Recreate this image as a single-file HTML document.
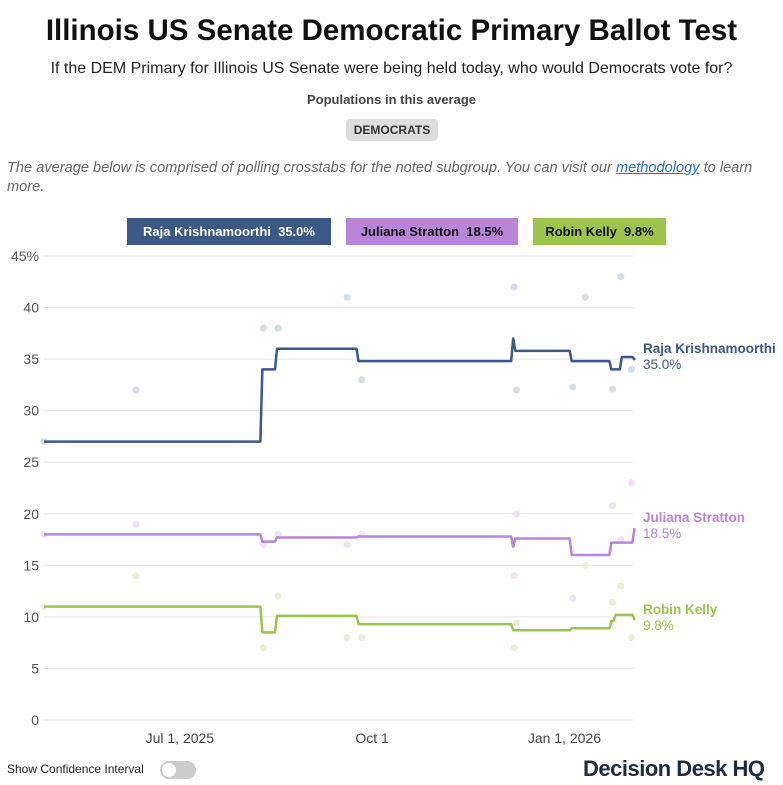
<!DOCTYPE html>
<html><head><meta charset="utf-8"><style>
body{margin:0;width:783px;height:785px;background:#fff;font-family:"Liberation Sans",sans-serif;position:relative;overflow:hidden;color:#222}
.a{position:absolute}
</style></head><body>
<div class="a" style="left:0;width:783px;top:14px;text-align:center;font-size:29.5px;font-weight:bold;color:#111">Illinois US Senate Democratic Primary Ballot Test</div>
<div class="a" style="left:0;width:783px;top:60px;text-align:center;font-size:16px;color:#222">If the DEM Primary for Illinois US Senate were being held today, who would Democrats vote for?</div>
<div class="a" style="left:0;width:783px;top:92px;text-align:center;font-size:13px;font-weight:bold;color:#444">Populations in this average</div>
<div class="a" style="left:346px;top:119px;width:92px;height:22px;line-height:22px;background:#ddd;border-radius:4px;text-align:center;font-size:12px;font-weight:bold;color:#333">DEMOCRATS</div>
<div class="a" style="left:7px;top:159px;width:770px;font-size:14.6px;font-style:italic;color:#666;line-height:19px">The average below is comprised of polling crosstabs for the noted subgroup. You can visit our <span style="color:#2a6fd6;text-decoration:underline">methodology</span> to learn<br>more.</div>
<div class="a" style="left:127px;top:218px;width:204px;height:27px;line-height:27px;background:#3b5887;color:#fff;font-size:13px;font-weight:bold;text-align:center">Raja Krishnamoorthi&nbsp; 35.0%</div>
<div class="a" style="left:346px;top:218px;width:172px;height:27px;line-height:27px;background:#b985d8;color:#111;font-size:13px;font-weight:bold;text-align:center">Juliana Stratton&nbsp; 18.5%</div>
<div class="a" style="left:533px;top:218px;width:133px;height:27px;line-height:27px;background:#9dc44d;color:#111;font-size:13px;font-weight:bold;text-align:center">Robin Kelly&nbsp; 9.8%</div>
<svg class="a" style="left:0;top:0" width="783" height="785" id="chart"></svg>
<div class="a" style="left:7px;top:762px;font-size:12px;color:#222">Show Confidence Interval</div>
<div class="a" style="left:160px;top:761px;width:36px;height:18px;border-radius:9px;background:#ccc"><div style="position:absolute;left:2px;top:2px;width:14px;height:14px;border-radius:7px;background:#fff"></div></div>
<div class="a" style="left:583px;top:756px;font-size:22px;font-weight:bold;color:#1d2a44;letter-spacing:-0.5px">Decision Desk HQ</div>
<script>
const tickValues=[0,5,10,15,20,25,30,35,40,45];
const dateTicks=[65,157,249];
const dateLabels=["Jul 1, 2025","Oct 1","Jan 1, 2026"];
const stepDays=[0,104,111,150,224,225,252,271,273,276,282];
const rajaAvg=[27,34,36,34.8,37,35.8,34.8,34,34,35.2,35.0];
const strattonAvg=[18,17.3,17.7,17.8,16.8,17.6,16.0,17.2,17.2,17.2,18.5];
const kellyAvg=[11,8.5,10.1,9.3,8.7,8.7,8.9,9.6,10.2,10.2,9.8];
const rajaPollDays=[0,44,105,112,145,152,225,226,253,259,272,276,281];
const rajaPolls=[27,32,38,38,41,33,42,32,32.3,41,32.1,43,34];
const strattonPollDays=[0,44,105,112,145,152,226,225,253,272,276,281];
const strattonPolls=[18,19,17,18,17,18,20,14,11.8,20.8,17.5,23];
const kellyPollDays=[0,44,105,112,145,152,225,226,259,272,276,281];
const kellyPolls=[11,14,7,12,8,8,7,9.4,15,11.4,13,8];
const NS="http://www.w3.org/2000/svg";
const svg=document.getElementById('chart');
const X0=44,PXD=2.09,Y0=720,PXV=(720-256)/45;
const xs=d=>X0+d*PXD, ys=v=>Y0-v*PXV;
function mk(t,a){const e=document.createElementNS(NS,t);for(const k in a)e.setAttribute(k,a[k]);svg.appendChild(e);return e;}
tickValues.forEach(v=>{
 const l=mk('line',{x1:44,x2:633,y1:ys(v),y2:ys(v),stroke:'#e3e3e3','stroke-width':1});
 
 
 const t=mk('text',{x:39,y:ys(v)+5,'text-anchor':'end','font-size':14,fill:'#555','font-family':'Liberation Sans'});
 t.textContent=v===45?'45%':v;
 
 
});
dateTicks.forEach((d,i)=>{
 const t=mk('text',{x:xs(d),y:743,'text-anchor':'middle','font-size':14,fill:'#444','font-family':'Liberation Sans'});
 t.textContent=dateLabels[i];
 
 
});
function dots(days,vals,col,name){days.forEach((d,i)=>{
 const c=mk('circle',{cx:xs(d),cy:ys(vals[i]),r:3.5,fill:col});
 
 
});}
dots(rajaPollDays,rajaPolls,'#d5dce8','raja-poll-dot');
dots(strattonPollDays,strattonPolls,'#efe1f6','stratton-poll-dot');
dots(kellyPollDays,kellyPolls,'#e8f0d6','kelly-poll-dot');
function step(vals,col,name){
 let p='M'+xs(stepDays[0])+','+ys(vals[0]);
 for(let i=1;i<stepDays.length;i++){
  const x=xs(stepDays[i]);
  p+=' L'+(x-1)+','+ys(vals[i-1])+' L'+(x+1)+','+ys(vals[i]);
 }
 p+=' L'+633+','+ys(vals[vals.length-1]);
 const e=mk('path',{d:p,fill:'none',stroke:col,'stroke-width':2.5,'stroke-linejoin':'round'});
 
 
}
step(rajaAvg,'#3b5887','raja-line');
step(strattonAvg,'#b985d8','stratton-line');
step(kellyAvg,'#9dc44d','kelly-line');
function endLabel(name,vals,col,dn,dy){
 const v=vals[vals.length-1];
 const t=mk('text',{x:643,y:ys(v)+dy,'font-size':13.5,'font-weight':'bold',fill:col,'font-family':'Liberation Sans'});
 t.textContent=name;
 
 
 const t2=mk('text',{x:643,y:ys(v)+dy+16,'font-size':13.5,fill:col,'font-family':'Liberation Sans'});
 t2.textContent=v.toFixed(1)+'%';
 
 
}
endLabel('Raja Krishnamoorthi',rajaAvg,'#3b5887','raja',-6);
endLabel('Juliana Stratton',strattonAvg,'#b985d8','stratton',-7);
endLabel('Robin Kelly',kellyAvg,'#9dc44d','kelly',-5);
</script>
</body></html>
